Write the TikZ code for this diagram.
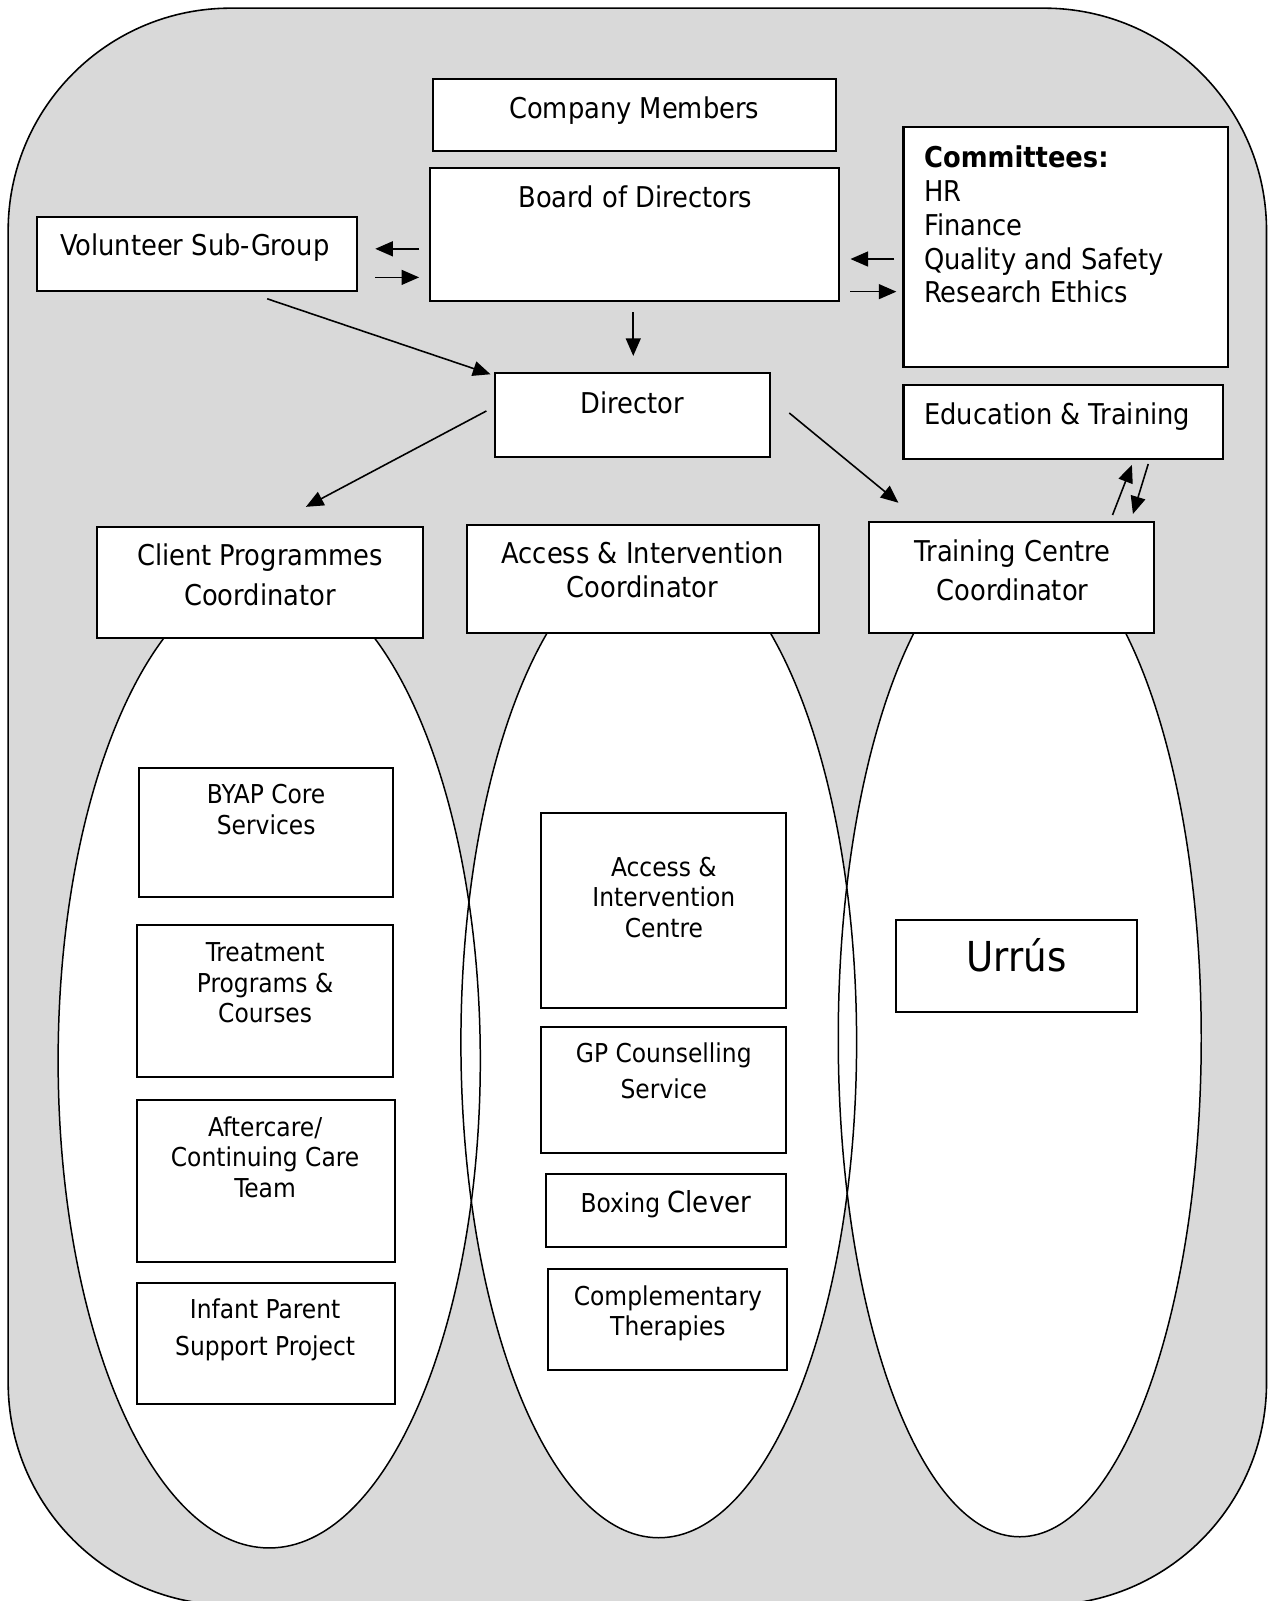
\documentclass[tikz,border=0pt]{standalone}
\usepackage{fontspec}
\setmainfont{DejaVu Sans Condensed}
\usetikzlibrary{fit,calc,arrows.meta}
\definecolor{bggray}{RGB}{217,217,217}

\begin{document}
\begin{tikzpicture}[x=0.0204cm, y=-0.0204cm,
    box/.style={draw, fill=white, line width=1.15pt, inner sep=0pt},
    lbl/.style={font=\fontsize{16.3}{19.2}\selectfont, align=center, inner sep=0pt, anchor=base},
    sml/.style={lbl, font=\fontsize{14.8}{17.4}\selectfont},
    oval/.style={draw, line width=0.85pt},
    arr/.style={-{Triangle[length=10pt,width=8.5pt]}, line width=0.9pt}]
    \useasboundingbox (0,0) rectangle (1245,1570);
    % grey frame, runs off the bottom
    \draw[fill=bggray, line width=0.9pt, rounded corners=4.45cm] (8,8) rectangle (1242,1574);

    % the three ovals
    \fill[white] (264,1040) ellipse [x radius=4.223cm, y radius=9.751cm];
    \fill[white] (646,1022) ellipse [x radius=3.958cm, y radius=9.914cm];
    \fill[white] (1000,1018) ellipse [x radius=3.631cm, y radius=9.976cm];
    \draw[oval] (264,1040) ellipse [x radius=4.223cm, y radius=9.751cm];
    \draw[oval] (646,1022) ellipse [x radius=3.958cm, y radius=9.914cm];
    \draw[oval] (1000,1018) ellipse [x radius=3.631cm, y radius=9.976cm];

    % top of the chart
    \node[box, fit={(425,77) (820,148)}] (members) {};
    \node[box, fit={(422,165) (823,295)}] (board) {};
    \node[box, fit={(36,213) (350,285)}] (volunteer) {};
    \node[box, fit={(886,125) (1204,360)}] (committees) {};
    \node[box, fit={(886,378) (1199,450)}] (education) {};
    \node[box, fit={(485,366) (755,448)}] (director) {};
    \node[box, fit={(95,517) (415,626)}] (client) {};
    \node[box, fit={(458,515) (803,621)}] (access) {};
    \node[box, fit={(852,512) (1132,621)}] (training) {};

    % y of a text node = baseline of its last line
    \node[lbl] (members-t) at (622,116) {Company Members};
    \node[lbl] (board-t) at (623,203) {Board of Directors};
    \node[lbl] (volunteer-t) at (191,251) {Volunteer Sub-Group};
    \node[lbl, anchor=base west, align=left] (committees-t) at (906,297)
        {\textbf{Committees:}\\HR\\Finance\\Quality and Safety\\Research Ethics};
    \node[lbl, anchor=base west] (education-t) at (906,416) {Education \& Training};
    \node[lbl] (director-t) at (620,405) {Director};
    \node[lbl] (client-t) at (255,594) {Client Programmes\\[3.5pt]Coordinator};
    \node[lbl] (access-t) at (630,586) {Access \& Intervention\\Coordinator};
    \node[lbl] (training-t) at (993,589) {Training Centre\\[3pt]Coordinator};

    % services inside the ovals
    \node[box, fit={(136,753) (385,880)}] (byap) {};
    \node[box, fit={(134,907) (385,1056)}] (treatment) {};
    \node[box, fit={(134,1079) (387,1238)}] (aftercare) {};
    \node[box, fit={(134,1258) (387,1377)}] (infant) {};
    \node[box, fit={(531,797) (771,988)}] (centre) {};
    \node[box, fit={(531,1007) (771,1131)}] (gp) {};
    \node[box, fit={(535,1151) (771,1223)}] (boxing) {};
    \node[box, fit={(537,1244) (772,1343)}] (therapies) {};
    \node[box, fit={(879,902) (1115,992)}] (urrus) {};

    \node[sml] (byap-t) at (261,818) {BYAP Core\\Services};
    \node[sml] (treatment-t) at (260,1003) {Treatment\\Programs \&\\Courses};
    \node[sml] (aftercare-t) at (260,1174) {Aftercare/\\Continuing Care\\Team};
    \node[sml] (infant-t) at (260,1329) {Infant Parent\\[3.5pt]Support Project};
    \node[sml] (centre-t) at (651,919) {Access \&\\Intervention\\Centre};
    \node[sml] (gp-t) at (651,1077) {GP Counselling\\[3pt]Service};
    \node[sml] (boxing-t) at (653,1189) {Boxing {\fontsize{16.5}{19}\selectfont Clever}};
    \node[sml] (therapies-t) at (655,1310) {Complementary\\Therapies};
    \node[lbl, font=\fontsize{23.5}{28}\selectfont] (urrus-t) at (997,953) {Urrús};

    % arrows
    \draw[arr] ($(board.west)+(-10,14)$) -- ($(volunteer.east)+(17,-5)$);
    \draw[arr] ($(volunteer.east)+(17,23)$) -- ($(board.west)+(-10,42)$);
    \draw[arr] ($(committees.west)+(-8,11.5)$) -- ($(board.east)+(10,24)$);
    \draw[arr] ($(board.east)+(10,56)$) -- ($(committees.west)+(-6,43.5)$);
    \draw[arr] ($(board.south)+(-1.5,10)$) -- ($(director.north)+(1,-16)$);
    \draw[arr] ($(volunteer.south)+(69,7)$) -- ($(director.north west)+(-3,2)$);
    \draw[arr] ($(director.west)+(-7,-4)$) -- ($(client.north)+(45,-19)$);
    \draw[arr] ($(director.east)+(18,-2)$) -- ($(training.north west)+(30,-18)$);
    \draw[arr] ($(training.north east)+(-42,-6)$) -- ($(education.south east)+(-90,5)$);
    \draw[arr] ($(education.south east)+(-74,4)$) -- ($(training.north east)+(-22,-7)$);
\end{tikzpicture}
\end{document}
